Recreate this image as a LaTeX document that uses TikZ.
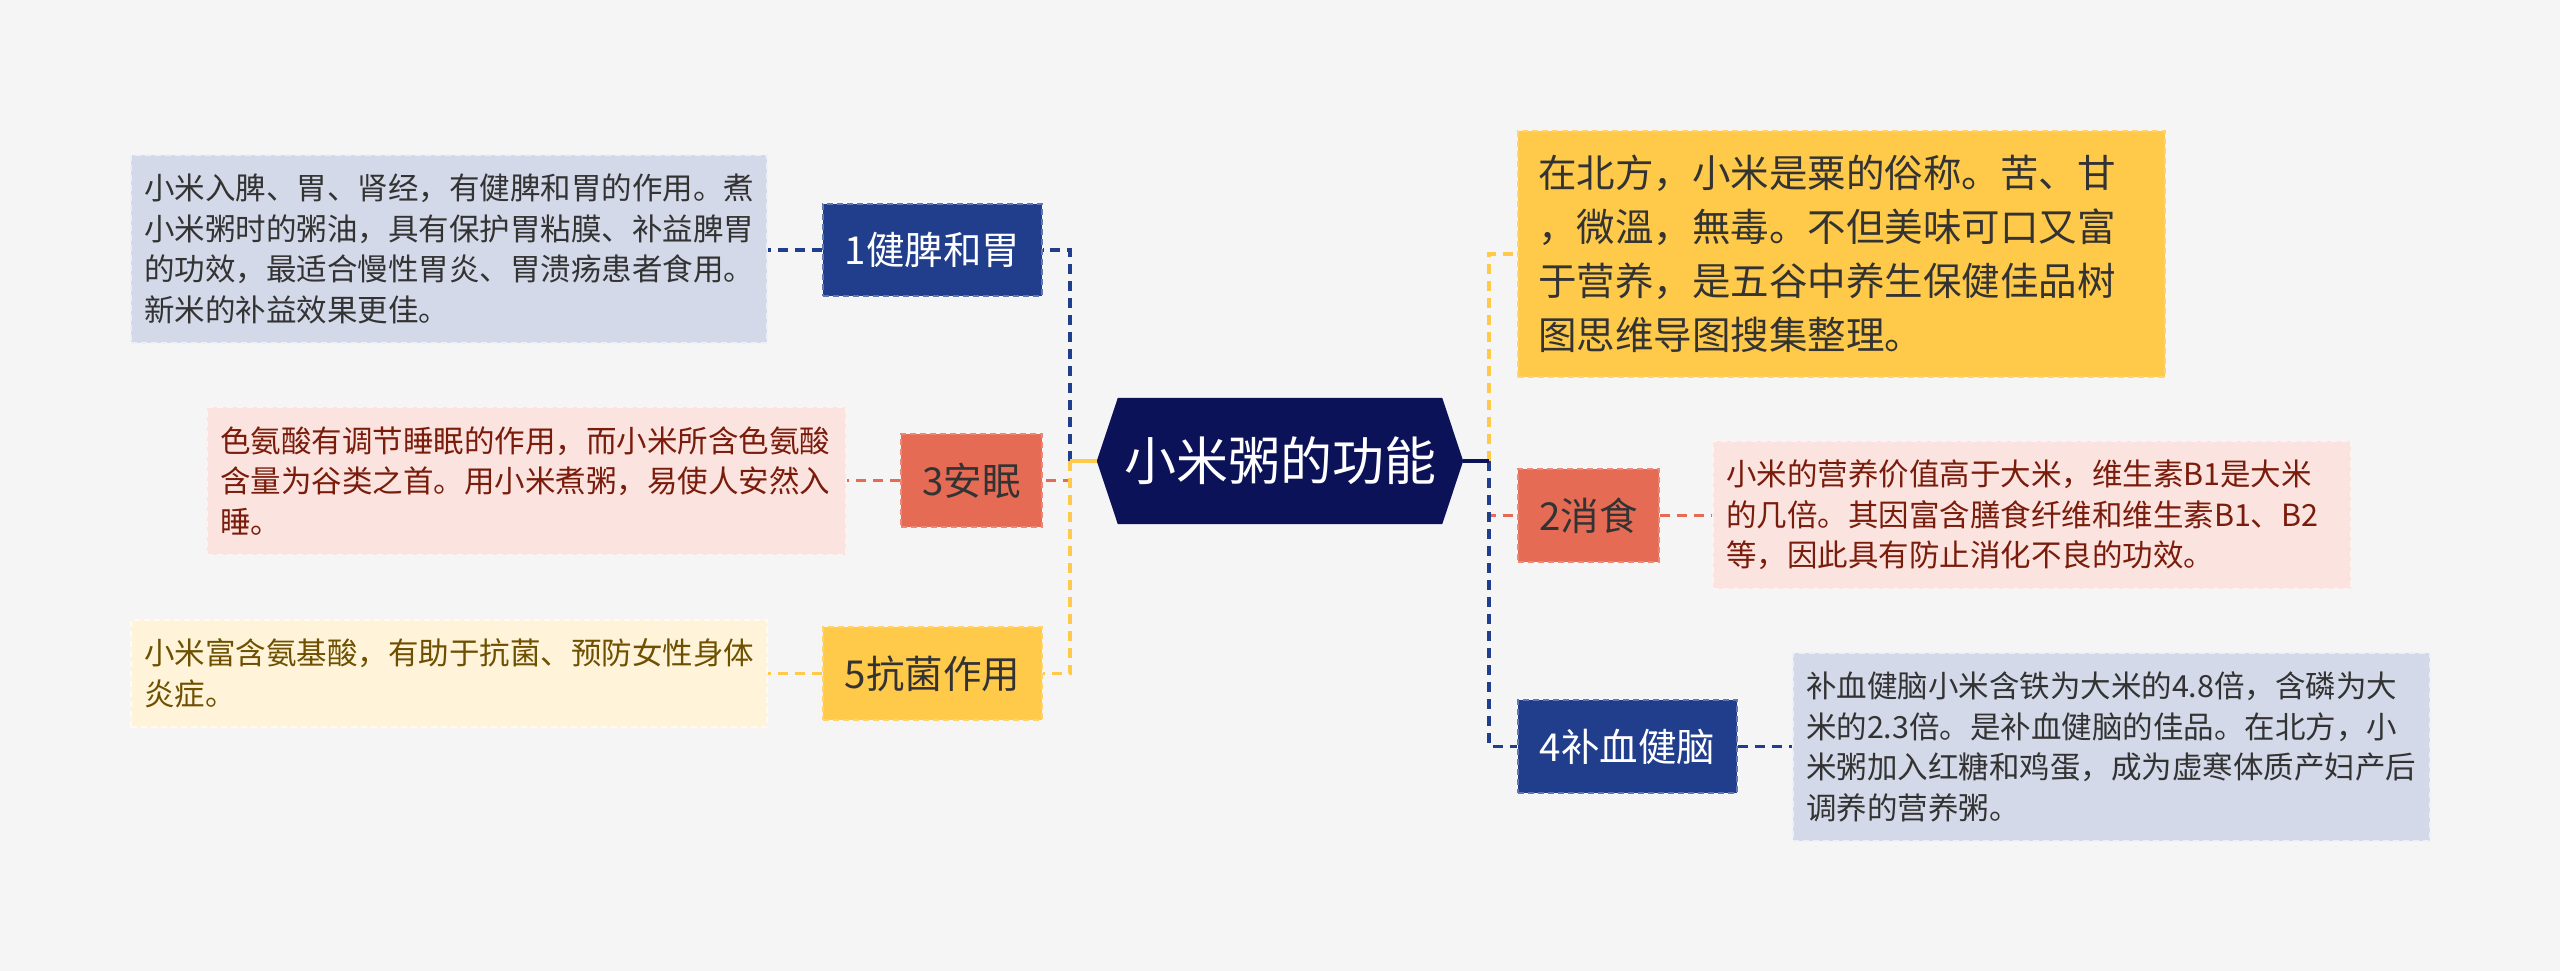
\documentclass[tikz,border=0pt]{standalone}
\usepackage{fontspec}
\setmainfont{Noto Sans CJK SC}
\definecolor{bgC}{HTML}{F5F5F5}
\definecolor{navyC}{HTML}{0B1258}
\definecolor{blueC}{HTML}{213E8C}
\definecolor{coralC}{HTML}{E56B55}
\definecolor{yellowC}{HTML}{FFC94A}
\definecolor{blueLeaf}{HTML}{D3D9E8}
\definecolor{coralLeaf}{HTML}{FBE4DF}
\definecolor{yellowLeaf}{HTML}{FFF4D9}
\definecolor{darkTxt}{HTML}{333333}
\definecolor{coralTxt}{HTML}{7A1C0C}
\definecolor{yellowTxt}{HTML}{6E5000}
\tikzset{
  boxbase/.style={rectangle, inner sep=0pt, dashed, dash pattern=on 6pt off 4pt, line width=1.5pt},
  bluebox/.style={boxbase, fill=blueC, draw=blueC!70!white, text=white, font=\fontsize{38.5}{46}\selectfont},
  coralbox/.style={boxbase, fill=coralC, draw=coralC!80!white, text=darkTxt, font=\fontsize{38.5}{46}\selectfont},
  yellowbox/.style={boxbase, fill=yellowC, draw=yellowC!80!white, text=darkTxt, font=\fontsize{38.5}{46}\selectfont},
  leafbase/.style={rectangle, inner xsep=13pt, inner ysep=0pt, align=left, dashed, dash pattern=on 6pt off 4pt, line width=1.5pt, font=\fontsize{30.5}{40.5}\selectfont},
  blueleaf/.style={leafbase, fill=blueLeaf, draw=white!60!blueLeaf, text=darkTxt},
  coralleaf/.style={leafbase, fill=coralLeaf, draw=white!60!coralLeaf, text=coralTxt},
  yellowleaf/.style={leafbase, fill=yellowLeaf, draw=white!60!yellowLeaf, text=yellowTxt},
  conn/.style={line width=3.5pt, dash pattern=on 10pt off 7pt},
  stub/.style={line width=3.5pt},
}
\begin{document}
\begin{tikzpicture}[x=1pt, y=-1pt]
\useasboundingbox (0,0) rectangle (2560,971);
\fill[bgC] (0,0) rectangle (2560,971);

% root
\node[rectangle, minimum width=366pt, minimum height=126pt, inner sep=0pt] (root) at (1280,461) {};
\fill[navyC] (root.west) -- ([xshift=21pt]root.north west) -- ([xshift=-21pt]root.north east) -- (root.east) -- ([xshift=-21pt]root.south east) -- ([xshift=21pt]root.south west) -- cycle;
\node[text=white, font=\fontsize{52}{62}\selectfont] at (root.center) {小米粥的功能};

\coordinate (tl) at (1070,461);
\coordinate (tr) at (1489,461);

% left boxes
\node[bluebox, minimum width=219pt, minimum height=92pt] (b1) at (932.5,250) {1健脾和胃};
\node[coralbox, minimum width=141pt, minimum height=93pt] (b3) at (971.5,480.5) {3安眠};
\node[yellowbox, minimum width=219pt, minimum height=93pt] (b5) at (932.5,673.5) {5抗菌作用};

% left leaves
\node[blueleaf, text width=610pt, minimum height=188pt] (l1) at (449,249) {小米入脾、胃、肾经，有健脾和胃的作用。煮\\小米粥时的粥油，具有保护胃粘膜、补益脾胃\\的功效，最适合慢性胃炎、胃溃疡患者食用。\\新米的补益效果更佳。};
\node[coralleaf, text width=613pt, minimum height=148pt] (l3) at (526.5,481) {色氨酸有调节睡眠的作用，而小米所含色氨酸\\含量为谷类之首。用小米煮粥，易使人安然入\\睡。};
\node[yellowleaf, text width=610pt, minimum height=107pt] (l5) at (449,673.5) {小米富含氨基酸，有助于抗菌、预防女性身体\\炎症。};

% right
\node[yellowleaf, fill=yellowC, draw=yellowC!80!white, text=darkTxt, inner xsep=20pt, text width=607pt, minimum height=246pt, font=\fontsize{38.5}{54}\selectfont] (ly) at (1841.5,254) {在北方，小米是粟的俗称。苦、甘\\，微溫，無毒。不但美味可口又富\\于营养，是五谷中养生保健佳品树\\图思维导图搜集整理。};
\node[coralbox, minimum width=141pt, minimum height=93pt] (b2) at (1588.5,515.5) {2消食};
\node[coralleaf, text width=612pt, minimum height=148pt] (l2) at (2032,515) {小米的营养价值高于大米，维生素B1是大米\\的几倍。其因富含膳食纤维和维生素B1、B2\\等，因此具有防止消化不良的功效。};
\node[bluebox, minimum width=219pt, minimum height=93pt] (b4) at (1627.5,746.5) {4补血健脑};
\node[blueleaf, text width=611pt, minimum height=188pt] (l4) at (2111.5,747) {补血健脑小米含铁为大米的4.8倍，含磷为大\\米的2.3倍。是补血健脑的佳品。在北方，小\\米粥加入红糖和鸡蛋，成为虚寒体质产妇产后\\调养的营养粥。};

% left connectors
\draw[conn, blueC] (tl) |- (b1.east);
\draw[conn, coralC] (tl) |- (b3.east);
\draw[conn, yellowC] (tl) |- (b5.east);
\draw[stub, yellowC] (root.west) -- (tl);
\draw[conn, blueC] (b1.west) -- (l1.east |- b1.west);
\draw[conn, coralC] (b3.west) -- (l3.east |- b3.west);
\draw[conn, yellowC] (b5.west) -- (l5.east |- b5.west);

% right connectors
\draw[conn, yellowC] (tr) |- (ly.west);
\draw[conn, coralC] (tr) |- (b2.west);
\draw[conn, blueC] (tr) |- (b4.west);
\draw[stub, navyC] (root.east) -- (tr);
\draw[conn, coralC] (b2.east) -- (l2.west |- b2.east);
\draw[conn, blueC] (b4.east) -- (l4.west |- b4.east);
\end{tikzpicture}
\end{document}
